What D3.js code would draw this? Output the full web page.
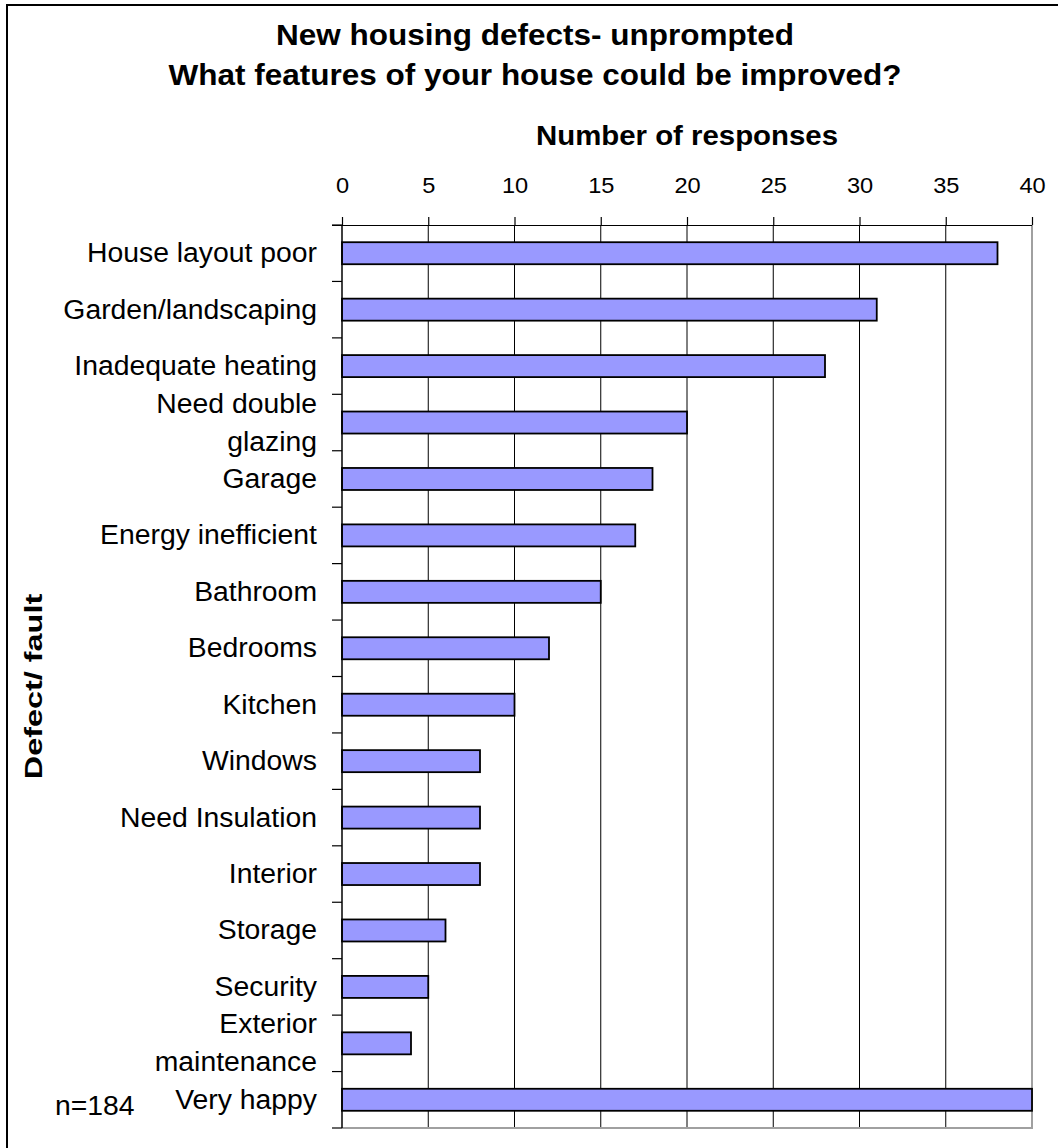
<!DOCTYPE html>
<html>
<head>
<meta charset="utf-8">
<script src="https://cdn.jsdelivr.net/npm/d3@7"></script>
<style>
  html, body { margin: 0; padding: 0; background: #fff; }
  svg { display: block; }
  text { font-family: "Liberation Sans", Arial, sans-serif; fill: #000; }
</style>
</head>
<body>
<svg id="chart" width="1058" height="1148"></svg>
<script>
// Survey responses: features of new houses that could be improved
const categories = [
  "House layout poor", "Garden/landscaping", "Inadequate heating",
  "Need double glazing", "Garage", "Energy inefficient", "Bathroom",
  "Bedrooms", "Kitchen", "Windows", "Need Insulation", "Interior",
  "Storage", "Security", "Exterior maintenance", "Very happy"
];
const responses = [38, 31, 28, 20, 18, 17, 15, 12, 10, 8, 8, 8, 6, 5, 4, 40];
// Wrapped category labels (line breaks as shown on the axis)
const labelLines = {
  "Need double glazing": ["Need double", "glazing"],
  "Exterior maintenance": ["Exterior", "maintenance"]
};
const xTicks = [0, 5, 10, 15, 20, 25, 30, 35, 40];
const titleLines = ["New housing defects- unprompted", "What features of your house could be improved?"];
const xTitle = "Number of responses";
const yTitle = "Defect/ fault";
const sampleNote = "n=184";

const svg = d3.select("#chart");
const SX = 1.05; // slight horizontal stretch of the lettering

const plot = { left: 342, right: 1032, top: 225, bottom: 1128 };

const x = d3.scaleLinear().domain([0, 40]).range([plot.left, plot.right]);
const y = d3.scaleBand().domain(categories)
  .range([plot.top, plot.bottom])
  .paddingInner(0.61).paddingOuter(0.305);

// Outer chart frame
svg.append("rect")
  .attr("x", 7).attr("y", 5).attr("width", 1200).attr("height", 1300)
  .attr("fill", "none").attr("stroke", "#000").attr("stroke-width", 2);

// helper for horizontally stretched text
function label(g, str, px, py, opts) {
  return g.append("text")
    .attr("transform", `translate(${px},${py}) scale(${SX},1)`)
    .attr("text-anchor", opts.anchor || "middle")
    .style("font-size", opts.size + "px")
    .style("font-weight", opts.bold ? "bold" : "normal")
    .text(str);
}

// Titles
titleLines.forEach((t, i) => label(svg, t, 535, 45 + i * 40, { size: 30, bold: true }));
label(svg, xTitle, (plot.left + plot.right) / 2, 145, { size: 28, bold: true });

// Vertical gridlines
svg.append("g").selectAll("line")
  .data(xTicks.filter(d => d > 0 && d < 40))
  .join("line")
  .attr("x1", d => x(d)).attr("x2", d => x(d))
  .attr("y1", plot.top).attr("y2", plot.bottom)
  .attr("stroke", "#000").attr("stroke-width", 1);

// Plot area right/bottom border
svg.append("path")
  .attr("d", `M${plot.right},${plot.top}V${plot.bottom}H${plot.left}`)
  .attr("fill", "none").attr("stroke", "#a0a0a0").attr("stroke-width", 2);

// Bars
svg.append("g").selectAll("rect")
  .data(categories)
  .join("rect")
  .attr("x", x(0))
  .attr("y", d => y(d))
  .attr("width", (d, i) => x(responses[i]) - x(0))
  .attr("height", y.bandwidth())
  .attr("fill", "#9999ff")
  .attr("stroke", "#000").attr("stroke-width", 1.8);

// Top value axis
const xAxis = svg.append("g")
  .attr("transform", `translate(0,${plot.top})`)
  .call(d3.axisTop(x).tickValues(xTicks).tickSize(8).tickPadding(24));
xAxis.select(".domain").attr("d", `M${plot.left - 10},0.5H${plot.right}`).attr("stroke-width", 1.2);
xAxis.selectAll(".tick line").attr("stroke-width", 1.2);
xAxis.selectAll(".tick text")
  .attr("transform", `scale(${SX},1)`)
  .style("font-size", "22.5px")
  .style("font-family", "'Liberation Sans', Arial, sans-serif");

// Left category axis with tick marks at band boundaries
const step = y.step();
const bounds = d3.range(categories.length + 1).map(i => plot.top + i * step);
const yAxis = svg.append("g");
yAxis.append("line")
  .attr("x1", plot.left).attr("x2", plot.left)
  .attr("y1", plot.top).attr("y2", plot.bottom)
  .attr("stroke", "#000").attr("stroke-width", 1.5);
yAxis.selectAll("line.tk")
  .data(bounds)
  .join("line").attr("class", "tk")
  .attr("x1", plot.left - 10).attr("x2", plot.left)
  .attr("y1", d => d).attr("y2", d => d)
  .attr("stroke", "#000").attr("stroke-width", 1.2);

// Category labels
categories.forEach(c => {
  const cy = y(c) + y.bandwidth() / 2;
  const lines = labelLines[c] || [c];
  const gap = 38;
  lines.forEach((ln, j) => {
    const ly = cy + (j - (lines.length - 1) / 2) * gap + 9;
    label(svg, ln, 317, ly, { size: 27, anchor: "end" });
  });
});

// Vertical axis title
svg.append("text")
  .attr("transform", `translate(42,${(plot.top + plot.bottom) / 2 + 10}) rotate(-90) scale(1.35,1)`)
  .attr("text-anchor", "middle")
  .style("font-size", "24px").style("font-weight", "bold")
  .text(yTitle);

// Sample size note
label(svg, sampleNote, 55, 1115, { size: 27, anchor: "start" });
</script>
</body>
</html>
